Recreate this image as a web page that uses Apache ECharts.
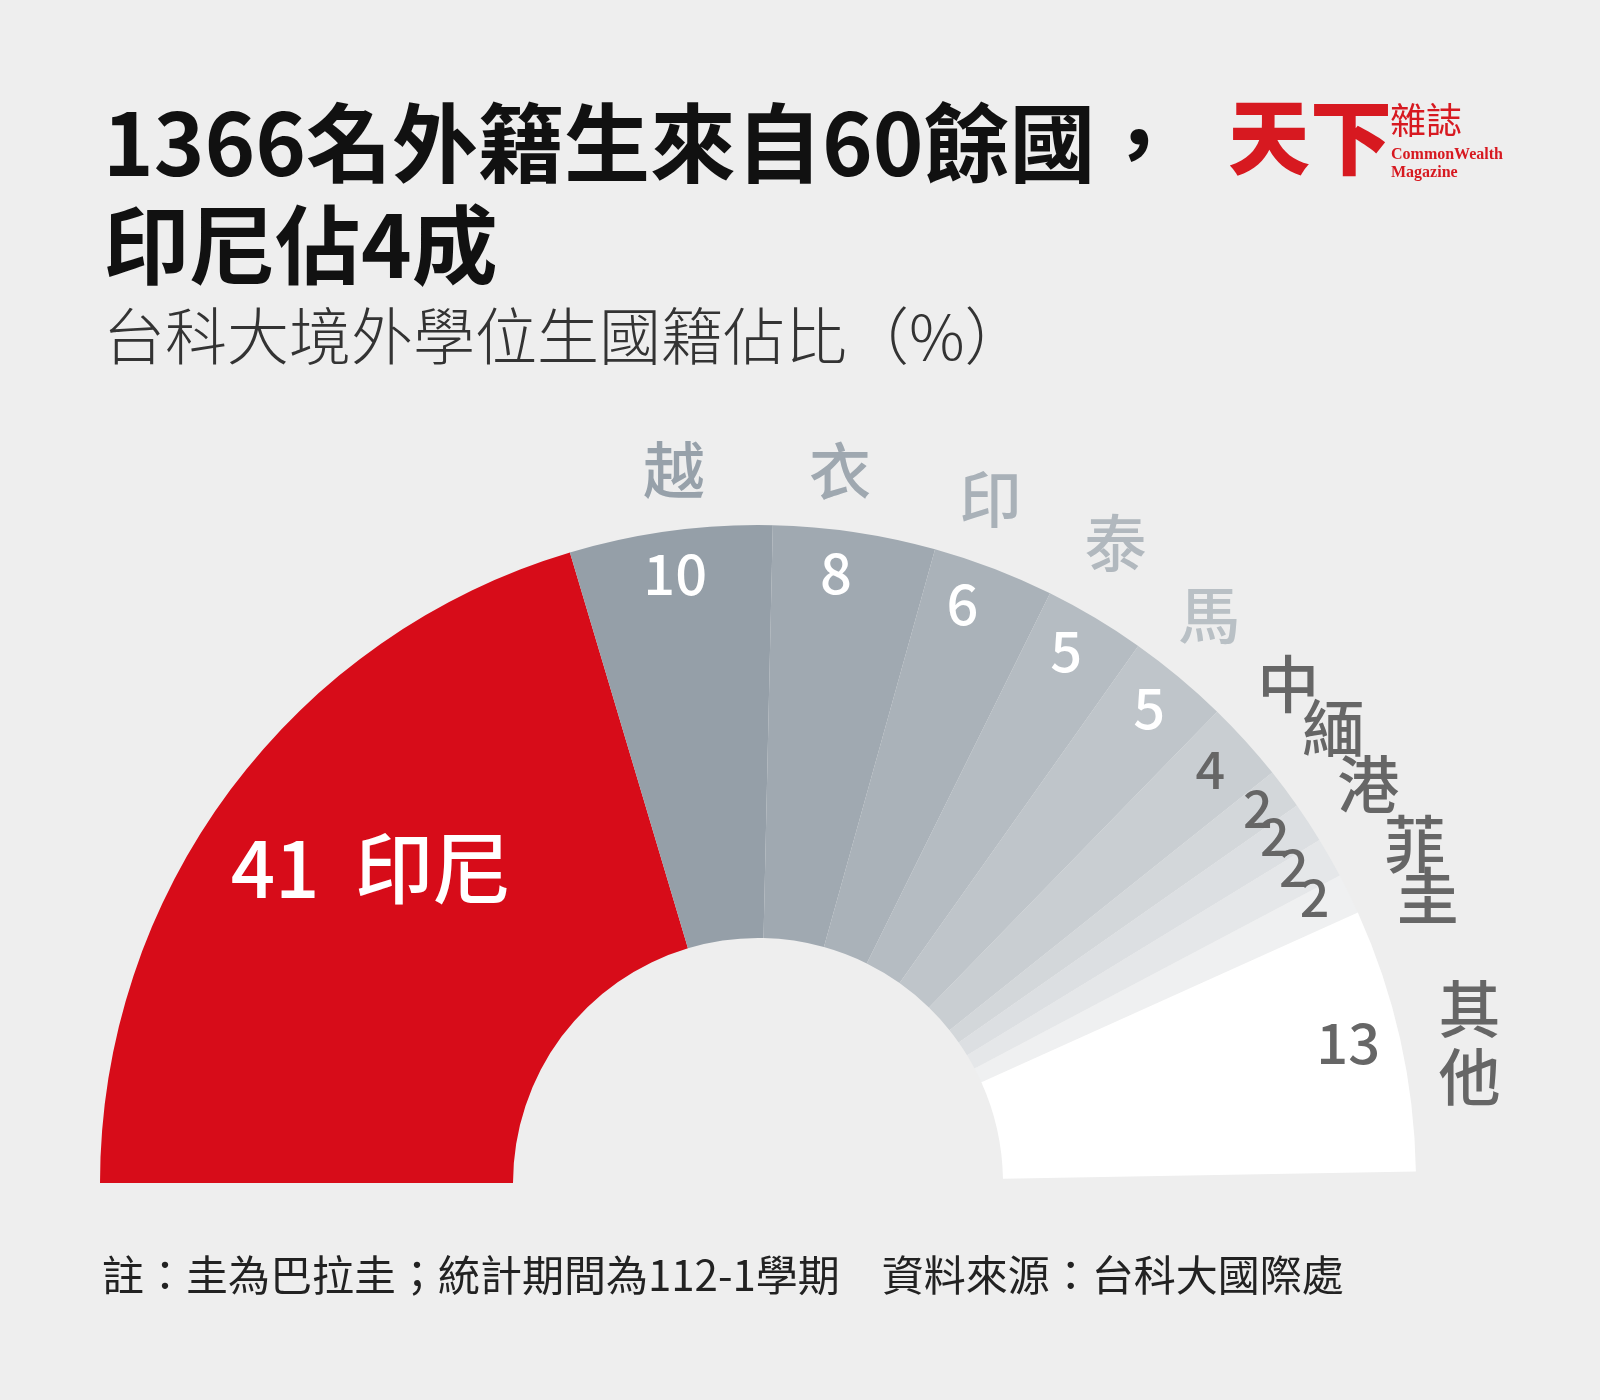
<!DOCTYPE html>
<html><head><meta charset="utf-8">
<script src="https://cdn.jsdelivr.net/npm/echarts@6/dist/echarts.min.js"></script>
<style>html,body{margin:0;padding:0;background:#eeeeee}#c{width:1600px;height:1400px}</style>
</head><body><div id="c"></div>
<script>
// ---- data ----
const countries = ['印尼','越','衣','印','泰','馬','中','緬','港','菲','圭','其他'];
const shares = [41, 10, 8, 6, 5, 5, 4, 2, 2, 2, 2, 13];
const titleLines = ['1366名外籍生來自60餘國，', '印尼佔4成'];
const subtitle = '台科大境外學位生國籍佔比（%）';
const footnote = '註：圭為巴拉圭；統計期間為112-1學期　資料來源：台科大國際處';

// ---- styles ----
const sliceColors = ['#D70C19','#959FA8','#A0A9B1','#AAB2B9','#B5BCC2','#BFC5CA','#C9CED2','#D3D7DA','#DCDFE2','#E5E7E9','#EFF0F1','#FFFFFF'];
const nameColors = ['#FFFFFF','#97A1AA','#9FA8B0','#A9B1B8','#B1B8BE','#B9C0C5','#666666','#666666','#666666','#666666','#666666','#666666'];
const valueColors = ['#FFFFFF','#FFFFFF','#FFFFFF','#FFFFFF','#FFFFFF','#FFFFFF','#666666','#666666','#666666','#666666','#666666','#666666'];
// small label nudges (px) to mimic the hand-placed labels of the original
const nameNudge = [[0,0],[12,2],[-24,2],[-26,-10],[-12,-20],[-10,-13],[-4,-15],[-2,-23],[7,-4],[30,18],[22,30],[8,18]];
const valueNudge = [[20,-11],[-1,-2],[-12,-4],[-15,-7],[-6,-6],[-1,-4],[-2,-2],[9,-8],[4,-11],[3,-13],[6,-16],[-8,-6]];

const FONT = '"Noto Sans CJK TC", "Noto Sans CJK SC", sans-serif';
const CENTER = [758, 1183];

const chart = echarts.init(document.getElementById('c'), null, {renderer: 'canvas'});

const baseSeries = {
  type: 'pie', center: CENTER, startAngle: 180, endAngle: 1, clockwise: true,
  silent: true, avoidLabelOverlap: false, labelLine: {show: false},
  minShowLabelAngle: 0, labelLayout: {hideOverlap: false},
  emphasis: {disabled: true}, animation: false
};
const nudged = (table) => (p) => ({hideOverlap: false, dx: table[p.dataIndex][0], dy: table[p.dataIndex][1]});

const mainData = countries.map((n, i) => ({
  name: n, value: shares[i], itemStyle: {color: sliceColors[i]}
}));

const transparentItems = (labelFn) => countries.map((n, i) => ({
  name: n, value: shares[i], itemStyle: {color: 'rgba(0,0,0,0)'}, label: labelFn(i)
}));

const option = {
  backgroundColor: '#EEEEEE',
  series: [
    Object.assign({}, baseSeries, {
      name: 'main', radius: [245, 658], data: mainData,
      label: {show: false}, itemStyle: {borderWidth: 0}
    }),
    // big label of the largest share
    Object.assign({}, baseSeries, {
      name: 'big', radius: [485, 525], labelLayout: nudged(valueNudge),
      data: transparentItems(i => i === 0 ? {
        show: true, position: 'inside', formatter: '{c}  {b}',
        color: valueColors[i], fontSize: 78, fontWeight: 500, fontFamily: FONT
      } : {show: false})
    }),
    // values
    Object.assign({}, baseSeries, {
      name: 'values', radius: [590, 630], labelLayout: nudged(valueNudge),
      data: transparentItems(i => i === 0 ? {show: false} : {
        show: true, position: 'inside', formatter: '{c}',
        color: valueColors[i], fontSize: i >= 6 && i <= 10 ? 52 : 56, fontWeight: 500, fontFamily: FONT
      })
    }),
    // names
    Object.assign({}, baseSeries, {
      name: 'names', radius: [698, 738], labelLayout: nudged(nameNudge),
      data: transparentItems(i => i === 0 ? {show: false} : {
        show: true, position: 'inside',
        formatter: p => p.name.length > 1 ? p.name.split('').join('\n') : p.name,
        lineHeight: 68,
        color: nameColors[i], fontSize: 62, fontWeight: 500, fontFamily: FONT
      })
    })
  ],
  graphic: [
    {type: 'text', left: 103, top: 100, style: {text: titleLines[0], fill: '#111', font: '700 86px ' + FONT}},
    {type: 'text', left: 103, top: 202, style: {text: titleLines[1], fill: '#111', font: '700 86px ' + FONT}},
    {type: 'text', left: 103, top: 305, style: {text: subtitle, fill: '#333', font: '300 62px ' + FONT}},
    {type: 'text', left: 102, top: 1254, style: {text: footnote, fill: '#222', font: '400 42px ' + FONT}},
    {type: 'text', left: 1228, top: 96, style: {text: '天下', fill: '#D71920', font: '900 82px ' + FONT}},
    {type: 'text', left: 1390, top: 102, style: {text: '雜誌', fill: '#D71920', font: '400 36px ' + FONT}},
    {type: 'text', left: 1391, top: 147, style: {text: 'CommonWealth', fill: '#D71920', font: '700 16px "Liberation Serif", serif'}},
    {type: 'text', left: 1391, top: 165, style: {text: 'Magazine', fill: '#D71920', font: '700 16px "Liberation Serif", serif'}}
  ]
};
chart.setOption(option);
</script></body></html>
